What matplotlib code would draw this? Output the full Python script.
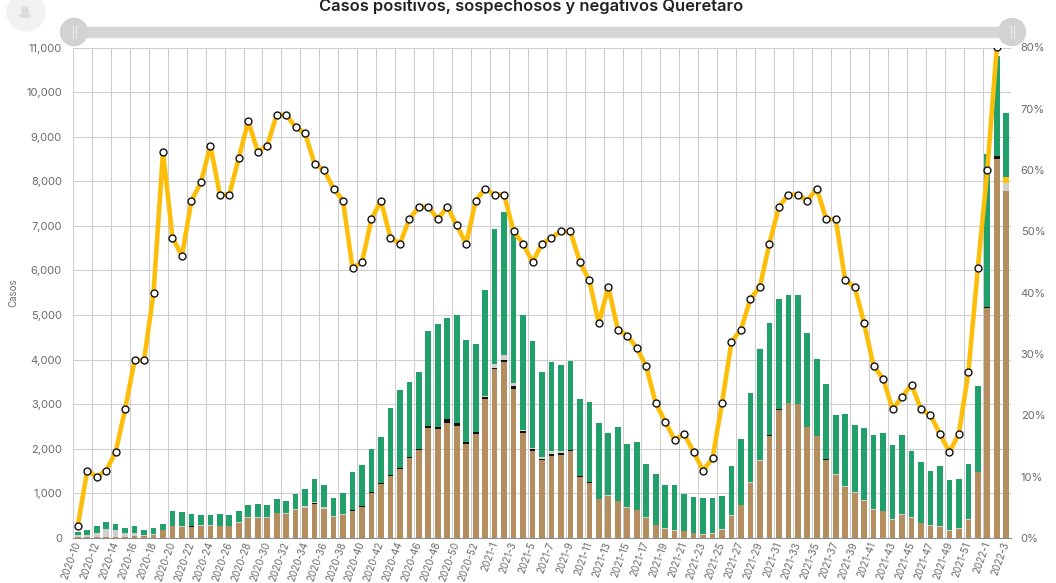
import matplotlib
matplotlib.use('Agg')
import matplotlib.pyplot as plt
from matplotlib.patches import Circle, Rectangle, Ellipse
import numpy as np

weeks = [f'2020-{w}' for w in range(10, 54)] + [f'2021-{w}' for w in range(1, 53)] + [f'2022-{w}' for w in range(1, 4)]

# stacked bar parts, cases per week
positivos = [20, 20, 20, 30, 30, 30, 50, 40, 60, 170, 265, 255, 250, 275, 280, 270, 265, 340, 450, 450,
             445, 550, 540, 620, 680, 760, 650, 480, 520, 615, 700, 1020, 1220, 1390, 1550, 1790, 1980, 2460, 2440, 2585,
             2510, 2100, 2330, 3110, 3780, 3940, 3350, 2360, 1960, 1740, 1850, 1870, 1950, 1370, 1240, 870, 950, 830, 680, 620,
             450, 290, 210, 160, 150, 110, 70, 100, 185, 500, 740, 1240, 1730, 2290, 2870, 3020, 3000, 2480, 2280, 1760,
             1420, 1150, 1020, 840, 630, 600, 410, 520, 450, 330, 280, 250, 160, 210, 410, 1480, 5150, 8500, 7780]
fallecidos = [0, 0, 0, 0, 0, 0, 0, 0, 0, 0, 0, 0, 10, 0, 0, 0, 0, 0, 0, 0,
              0, 0, 0, 0, 0, 20, 0, 0, 0, 5, 10, 5, 5, 15, 10, 30, 10, 55, 50, 80,
              60, 45, 40, 60, 40, 60, 60, 50, 30, 40, 40, 30, 15, 15, 15, 0, 0, 0, 0, 0,
              0, 0, 0, 0, 0, 0, 0, 0, 0, 0, 0, 0, 0, 15, 15, 10, 10, 15, 0, 15,
              0, 0, 0, 0, 0, 0, 0, 0, 0, 0, 0, 0, 0, 0, 0, 0, 20, 60, 0]
sospechosos = [50, 50, 100, 180, 160, 80, 70, 20, 20, 20, 15, 15, 20, 15, 20, 10, 15, 20, 20, 20,
               15, 20, 30, 30, 30, 20, 40, 20, 10, 10, 5, 5, 5, 5, 5, 5, 5, 5, 10, 5,
               5, 5, 5, 10, 80, 100, 60, 5, 20, 30, 50, 40, 10, 5, 5, 10, 10, 10, 10, 10,
               10, 10, 10, 10, 10, 10, 10, 10, 10, 10, 10, 10, 10, 5, 5, 5, 5, 5, 10, 5,
               10, 10, 10, 10, 10, 10, 10, 10, 10, 10, 10, 10, 10, 10, 10, 10, 10, 10, 180]
otros = [0] * 98 + [130]
totales = [130, 170, 270, 350, 310, 230, 260, 185, 220, 320, 600, 590, 530, 520, 520, 540, 520, 600, 730, 760,
           750, 870, 830, 990, 1110, 1320, 1190, 890, 1000, 1470, 1645, 2000, 2270, 2910, 3330, 3500, 3730, 4640, 4810, 4930,
           5000, 4450, 4360, 5560, 6940, 7300, 6850, 4990, 4410, 3730, 3950, 3870, 3960, 3110, 3040, 2590, 2360, 2490, 2100, 2160,
           1650, 1430, 1185, 1180, 990, 910, 890, 900, 940, 1610, 2220, 3260, 4240, 4820, 5360, 5440, 5440, 4590, 4020, 3450,
           2760, 2780, 2540, 2460, 2320, 2360, 2080, 2320, 1960, 1710, 1500, 1610, 1310, 1320, 1650, 3410, 8610, 10800, 9530]

# positivity line, % (no value for the last week)
positividad = [2, 11, 10, 11, 14, 21, 29, 29, 40, 63, 49, 46, 55, 58, 64, 56, 56, 62, 68, 63,
               64, 69, 69, 67, 66, 61, 60, 57, 55, 44, 45, 52, 55, 49, 48, 52, 54, 54, 52, 54,
               51, 48, 55, 57, 56, 56, 50, 48, 45, 48, 49, 50, 50, 45, 42, 35, 41, 34, 33, 31,
               28, 22, 19, 16, 17, 14, 11, 13, 22, 32, 34, 39, 41, 48, 54, 56, 56, 55, 57, 52,
               52, 42, 41, 35, 28, 26, 21, 23, 25, 21, 20, 17, 14, 17, 27, 44, 60, 80]

left_ticks = list(range(0, 12000, 1000))
right_ticks = list(range(0, 90, 10))

TEXT = '#6b6b6b'
GRID = '#cccccc'

plt.rcParams['font.family'] = ['Inter', 'DejaVu Sans']

fig = plt.figure(figsize=(10.56, 5.83), dpi=100)
ax = fig.add_axes([73 / 1056, 1 - 538 / 583, 938 / 1056, 490.5 / 583])

x = np.arange(len(weeks))
width = 0.6
bottom = np.zeros(len(weeks))
parts = [(positivos, '#b48e5f'), (fallecidos, '#111111'), (sospechosos, '#cfcfcf'), (otros, '#ffc20e')]
for vals, color in parts:
    ax.bar(x, vals, width, bottom=bottom, color=color, zorder=3)
    bottom = bottom + np.array(vals)
ax.bar(x, np.array(totales) - bottom, width, bottom=bottom, color='#22a06b', zorder=3)

ax.set_xlim(-0.5, len(weeks) - 0.5)
ax.set_ylim(0, 11000)
ax.set_yticks(left_ticks)
ax.set_yticklabels([f'{v:,}' for v in left_ticks])
ax.set_xticks(x[::2])
ax.set_xticklabels(weeks[::2], rotation=70, ha='right', va='center', rotation_mode='anchor')
ax.set_xticks(np.append(np.arange(-0.5, 96, 2), len(weeks) - 0.5), minor=True)
ax.tick_params(axis='x', which='major', length=0, labelsize=7.1, colors=TEXT, pad=3)
ax.tick_params(axis='x', which='minor', length=0)
ax.tick_params(axis='y', length=0, labelsize=8, colors=TEXT, pad=8)
ax.grid(axis='y', color=GRID, linewidth=0.7, zorder=0)
ax.grid(axis='x', which='minor', color=GRID, linewidth=0.7, zorder=0)
ax.set_ylabel('Casos', fontsize=7, color=TEXT)
ax.yaxis.set_label_coords(-55 / 938, 0.5)
for name, sp in ax.spines.items():
    sp.set_visible(name == 'bottom')
ax.spines['bottom'].set_color('#8c8c8c')
ax.spines['bottom'].set_zorder(4)

ax2 = ax.twinx()
ax2.set_ylim(0, 80)
ax2.set_yticks(right_ticks)
ax2.set_yticklabels([f'{v}%' for v in right_ticks])
ax2.tick_params(axis='y', length=0, labelsize=8, colors=TEXT, pad=7)
for sp in ax2.spines.values():
    sp.set_visible(False)
ax2.plot(x[:len(positividad)], positividad, color='#fdbe0a', linewidth=3.3, solid_joinstyle='round', zorder=5,
         marker='o', markersize=5, markerfacecolor='white', markeredgecolor='#111111', markeredgewidth=1.0)

# slider and avatar on top, drawn in pixel coordinates
deco = fig.add_axes([0, 0, 1, 1], facecolor='none')
deco.set_xlim(0, 1056)
deco.set_ylim(583, 0)
deco.axis('off')
deco.add_patch(Circle((26, 12), 19, color='#f1f1f1'))
deco.add_patch(Circle((25, 10), 3.2, color='#dcdcdc'))
deco.add_patch(Ellipse((25, 15.5), 9, 4, color='#dcdcdc'))
deco.add_patch(Rectangle((87, 26.5), 913, 10.5, color='#d6d6d6'))
for cx in (74, 1012):
    deco.add_patch(Circle((cx, 32), 13.5, color='#d2d2d2'))
    deco.plot([cx - 1.5, cx - 1.5], [26, 38], color='#ececec', linewidth=0.8)
    deco.plot([cx + 1.5, cx + 1.5], [26, 38], color='#ececec', linewidth=0.8)
deco.text(531, 6, 'Casos positivos, sospechosos y negativos Queretaro', ha='center', va='center',
          fontsize=11.9, fontweight='semibold', color='#222222')

fig.savefig('out.png', dpi=100)
